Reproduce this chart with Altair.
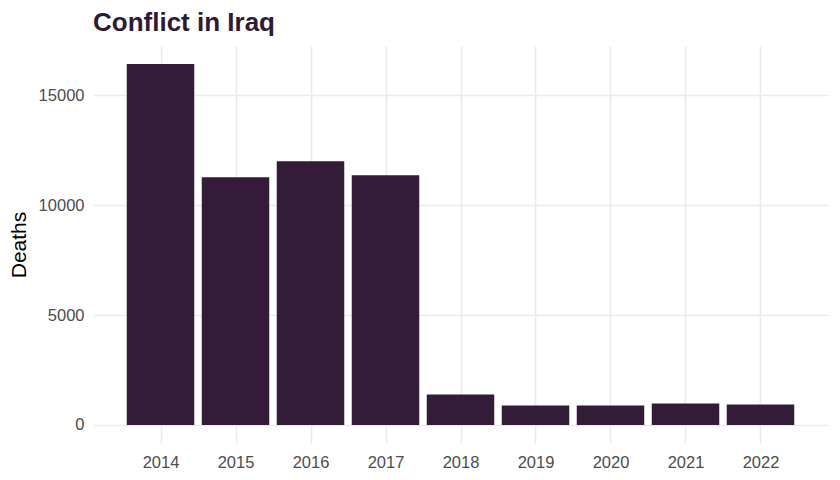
import altair as alt
import pandas as pd

years = [2014, 2015, 2016, 2017, 2018, 2019, 2020, 2021, 2022]
deaths = [16430, 11280, 12010, 11370, 1390, 890, 890, 980, 935]

df = pd.DataFrame({"year": years, "deaths": deaths})

ymax = max(deaths)
ydomain = [-0.05 * ymax, 1.05 * ymax]
bar_color = "#321C37"

chart = (
    alt.Chart(df)
    .transform_calculate(x0="datum.year - 0.45", x1="datum.year + 0.45")
    .mark_rect(color=bar_color)
    .encode(
        x=alt.X(
            "x0:Q",
            scale=alt.Scale(domain=[2013.1, 2022.9], nice=False, zero=False),
            axis=alt.Axis(
                values=years,
                format="d",
                title=None,
                labelFontSize=16.5,
                labelColor="#4D4D4D",
                labelPadding=11,
                ticks=False,
                domain=False,
                grid=True,
                gridColor="#EBEBEB",
                gridWidth=1.6,
                labelFont="Liberation Sans",
                labelFlush=False,
            ),
        ),
        x2="x1:Q",
        y=alt.Y(
            "deaths:Q",
            scale=alt.Scale(domain=ydomain, nice=False, zero=False),
            axis=alt.Axis(
                values=[0, 5000, 10000, 15000],
                format="d",
                title="Deaths",
                titleFontSize=21,
                titleFontWeight="normal",
                titleColor="#000000",
                titleFont="Liberation Sans",
                titlePadding=9,
                labelFontSize=16.5,
                labelColor="#4D4D4D",
                labelPadding=9,
                labelFont="Liberation Sans",
                ticks=False,
                domain=False,
                grid=True,
                gridColor="#EBEBEB",
                gridWidth=1.6,
            ),
        ),
        y2=alt.datum(0),
    )
    .properties(
        width=735,
        height=397,
        autosize=alt.AutoSizeParams(type="none"),
        padding={"left": 85, "top": 38, "right": 4, "bottom": 29},
        title=alt.TitleParams(
            "Conflict in Iraq",
            anchor="start",
            frame="group",
            fontSize=26,
            fontWeight="bold",
            color="#2E1A35",
            font="Liberation Sans",
            offset=10,
        ),
    )
    .configure(background="white", view=alt.ViewConfig(strokeWidth=0, strokeOpacity=0))
)

chart.save("out.html", embed_options={"renderer": "svg", "actions": False})
